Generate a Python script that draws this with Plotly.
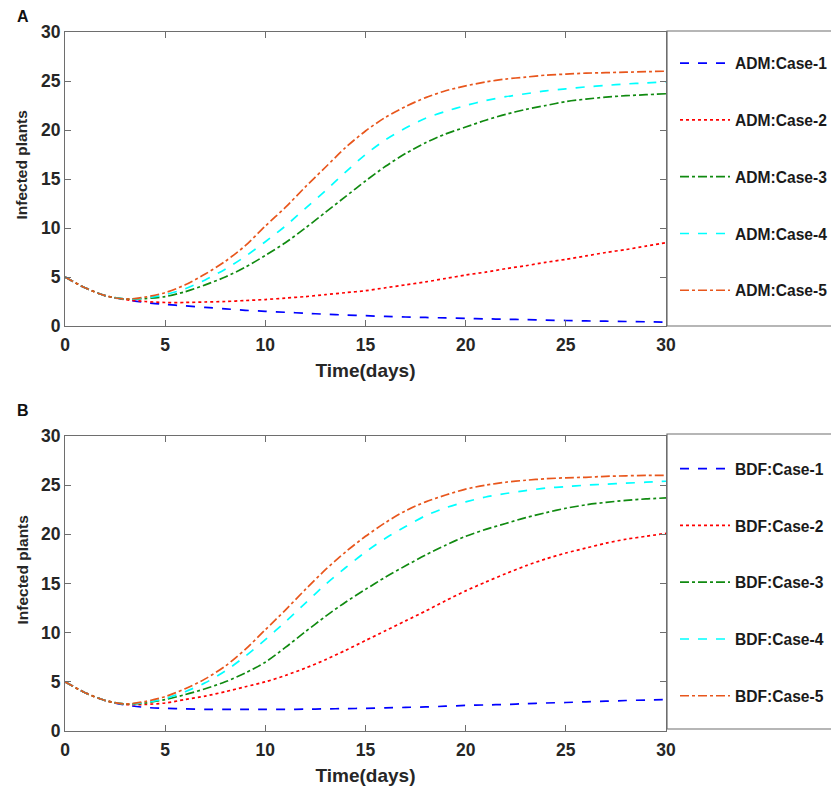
import plotly.graph_objects as go

days = list(range(0, 31))

# Panel A (ADM)
adm_case1 = [5.0, 3.9, 3.1, 2.7, 2.4, 2.2, 2.05, 1.9, 1.75, 1.6, 1.5, 1.4, 1.3, 1.2, 1.12, 1.05,
             0.98, 0.92, 0.87, 0.82, 0.78, 0.73, 0.69, 0.65, 0.6, 0.56, 0.52, 0.49, 0.46, 0.43, 0.4]
adm_case2 = [5.0, 3.9, 3.1, 2.7, 2.5, 2.4, 2.4, 2.45, 2.5, 2.6, 2.7, 2.85, 3.0, 3.2, 3.4, 3.6,
             3.9, 4.2, 4.5, 4.85, 5.2, 5.5, 5.85, 6.15, 6.5, 6.8, 7.15, 7.5, 7.8, 8.15, 8.5]
adm_case3 = [5.0, 3.9, 3.1, 2.75, 2.8, 3.0, 3.5, 4.2, 5.0, 6.0, 7.2, 8.5, 10.0, 11.6, 13.2, 14.8,
             16.3, 17.6, 18.7, 19.6, 20.3, 21.0, 21.6, 22.1, 22.5, 22.9, 23.15, 23.35, 23.5, 23.6, 23.7]
adm_case4 = [5.0, 3.9, 3.1, 2.75, 2.85, 3.2, 3.8, 4.7, 5.8, 7.1, 8.6, 10.2, 12.0, 13.8, 15.7, 17.5,
             19.0, 20.2, 21.2, 21.9, 22.5, 23.0, 23.4, 23.7, 24.0, 24.2, 24.4, 24.55, 24.7, 24.8, 24.9]
adm_case5 = [5.0, 3.9, 3.1, 2.75, 2.95, 3.4, 4.2, 5.3, 6.6, 8.2, 10.2, 12.1, 14.2, 16.2, 18.2, 19.9,
             21.3, 22.4, 23.3, 24.0, 24.5, 24.9, 25.2, 25.4, 25.6, 25.7, 25.8, 25.85, 25.9, 25.95, 26.0]

# Panel B (BDF)
bdf_case1 = [5.0, 3.9, 3.1, 2.65, 2.4, 2.3, 2.25, 2.2, 2.2, 2.2, 2.2, 2.2, 2.22, 2.25, 2.28, 2.3,
             2.35, 2.4, 2.45, 2.52, 2.6, 2.65, 2.7, 2.78, 2.85, 2.9, 2.97, 3.03, 3.1, 3.15, 3.2]
bdf_case2 = [5.0, 3.9, 3.1, 2.7, 2.7, 2.85, 3.2, 3.55, 4.0, 4.5, 5.0, 5.65, 6.4, 7.25, 8.2, 9.2,
             10.2, 11.2, 12.2, 13.25, 14.25, 15.15, 16.0, 16.8, 17.5, 18.1, 18.6, 19.1, 19.5, 19.8, 20.1]
bdf_case3 = [5.0, 3.9, 3.1, 2.75, 2.85, 3.2, 3.7, 4.3, 5.0, 5.9, 7.0, 8.5, 10.1, 11.65, 13.1, 14.4,
             15.65, 16.8, 17.9, 18.9, 19.8, 20.5, 21.1, 21.7, 22.2, 22.65, 23.0, 23.25, 23.45, 23.6, 23.7]
bdf_case4 = [5.0, 3.9, 3.1, 2.75, 2.9, 3.3, 4.0, 4.9, 6.1, 7.6, 9.3, 11.1, 13.0, 14.9, 16.6, 18.2,
             19.6, 20.8, 21.9, 22.7, 23.3, 23.8, 24.15, 24.45, 24.7, 24.85, 25.0, 25.1, 25.2, 25.3, 25.4]
bdf_case5 = [5.0, 3.9, 3.1, 2.75, 3.0, 3.5, 4.3, 5.3, 6.6, 8.3, 10.3, 12.3, 14.4, 16.4, 18.2, 19.8,
             21.2, 22.4, 23.3, 24.0, 24.6, 25.0, 25.3, 25.5, 25.65, 25.75, 25.8, 25.9, 25.95, 26.0, 26.0]

adm_names = ["ADM:Case-1", "ADM:Case-2", "ADM:Case-3", "ADM:Case-4", "ADM:Case-5"]
bdf_names = ["BDF:Case-1", "BDF:Case-2", "BDF:Case-3", "BDF:Case-4", "BDF:Case-5"]
x_ticks = [0, 5, 10, 15, 20, 25, 30]
y_ticks = [0, 5, 10, 15, 20, 25, 30]

colors = ["#0000ff", "#ff0000", "#108a10", "#00ffff", "#e8561c"]
dashes = ["dash", "dot", "dashdot", "dash", "dashdot"]

FONT = "Liberation Sans, Arial, sans-serif"
AX = "#6e6e6e"

fig = go.Figure()

for i, (nm, ys) in enumerate(zip(adm_names, [adm_case1, adm_case2, adm_case3, adm_case4, adm_case5])):
    fig.add_trace(go.Scatter(x=days, y=ys, name=nm, mode="lines", line_shape="spline",
                             line=dict(color=colors[i], dash=dashes[i], width=1.7, smoothing=0.8),
                             xaxis="x", yaxis="y", legend="legend", legendgroup=nm))
for i, (nm, ys) in enumerate(zip(bdf_names, [bdf_case1, bdf_case2, bdf_case3, bdf_case4, bdf_case5])):
    fig.add_trace(go.Scatter(x=days, y=ys, name=nm, mode="lines", line_shape="spline",
                             line=dict(color=colors[i], dash=dashes[i], width=1.7, smoothing=0.8),
                             xaxis="x2", yaxis="y2", legend="legend2", legendgroup=nm))

W, H = 831, 787
def px_x(p):
    return p / W
def px_y(p):
    return 1 - p / H

axis_common = dict(showline=True, linecolor=AX, linewidth=1.2, mirror="ticks", ticks="inside",
                   ticklen=6, tickcolor=AX, tickwidth=1, showgrid=False, zeroline=False,
                   automargin=False,
                   tickfont=dict(family=FONT, size=17.5, color="#262626", weight="bold"))

xa = dict(axis_common, range=[0, 30], tickvals=x_ticks, ticklabelstandoff=3,
          title=dict(text="Time(days)", font=dict(family=FONT, size=19, color="#262626", weight="bold"), standoff=9))
ya = dict(axis_common, range=[0, 30], tickvals=y_ticks)

leg_common = dict(font=dict(family=FONT, size=15.6, color="#1a1a1a", weight="bold"),
                  bgcolor="rgba(0,0,0,0)", borderwidth=0, tracegroupgap=33.5, itemwidth=50,
                  xanchor="left", yanchor="top")

title_font = dict(family=FONT, size=15.5, color="#262626", weight="bold")

def box_path(x0p, y0p, y1p):
    # left, top and bottom edges of the legend frame (right edge lies outside the picture)
    return (f"M 1,{px_y(y0p)} L {px_x(x0p)},{px_y(y0p)} L {px_x(x0p)},{px_y(y1p)} L 1,{px_y(y1p)}")

fig.update_layout(
    width=W, height=H, margin=dict(l=0, r=0, t=0, b=0, autoexpand=False),
    paper_bgcolor="white", plot_bgcolor="white",
    xaxis=dict(xa, domain=[px_x(65), px_x(666)], anchor="y"),
    yaxis=dict(ya, domain=[px_y(326), px_y(32)], anchor="x"),
    xaxis2=dict(xa, domain=[px_x(65), px_x(666)], anchor="y2"),
    yaxis2=dict(ya, domain=[px_y(731), px_y(436)], anchor="x2"),
    legend=dict(leg_common, x=px_x(675), y=px_y(46.5)),
    legend2=dict(leg_common, x=px_x(675), y=px_y(452)),
    showlegend=True,
    shapes=[
        dict(type="path", xref="paper", yref="paper", path=box_path(667, 31, 326),
             line=dict(color=AX, width=1.2)),
        dict(type="path", xref="paper", yref="paper", path=box_path(667, 434, 729),
             line=dict(color=AX, width=1.2)),
    ],
    annotations=[
        dict(text="A", xref="paper", yref="paper", x=px_x(23), y=px_y(17), showarrow=False,
             xanchor="center", yanchor="middle",
             font=dict(family=FONT, size=16, color="#111", weight="bold")),
        dict(text="B", xref="paper", yref="paper", x=px_x(23), y=px_y(410), showarrow=False,
             xanchor="center", yanchor="middle",
             font=dict(family=FONT, size=16, color="#111", weight="bold")),
        dict(text="Infected plants", xref="paper", yref="paper", x=px_x(21.5), y=px_y(165),
             showarrow=False, textangle=-90, xanchor="center", yanchor="middle", font=title_font),
        dict(text="Infected plants", xref="paper", yref="paper", x=px_x(21.5), y=px_y(570),
             showarrow=False, textangle=-90, xanchor="center", yanchor="middle", font=title_font),
    ],
)

fig.write_html("out.html")
